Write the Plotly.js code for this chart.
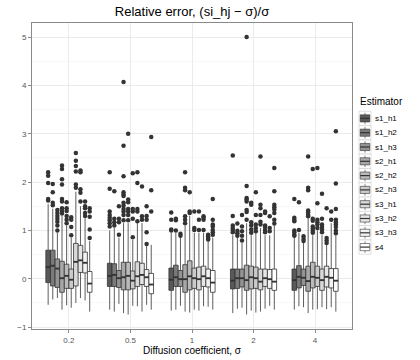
<!DOCTYPE html>
<html><head><meta charset="utf-8">
<script src="https://cdn.plot.ly/plotly-3.0.1.min.js"></script>
<style>html,body{margin:0;padding:0;background:#fff}#chart{width:420px;height:360px}</style>
</head><body><div id="chart"></div>
<script>
// Categories (x axis) and estimators (legend)
const SIGMA = ['0.2', '0.5', '1', '2', '4'];
const ESTIMATORS = ['s1_h1','s1_h2','s1_h3','s2_h1','s2_h2','s2_h3','s3_h1','s3_h2','s3_h3','s4'];
const FILLS = ['#595959','#7a7a7a','#939393','#a8a8a8','#bababa','#cacaca','#d9d9d9','#e6e6e6','#f3f3f3','#ffffff'];

// Box statistics: rows = sigma, columns = estimator
const LOWER = [
  [-0.54,-0.43,-0.40,-0.64,-0.55,-0.60,-0.50,-0.40,-0.45,-0.68],
  [-0.64,-0.68,-0.52,-0.71,-0.74,-0.56,-0.57,-0.68,-0.54,-0.64],
  [-0.66,-0.64,-0.56,-0.68,-0.70,-0.64,-0.66,-0.57,-0.58,-0.64],
  [-0.71,-0.62,-0.60,-0.74,-0.66,-0.70,-0.68,-0.62,-0.56,-0.64],
  [-0.64,-0.57,-0.59,-0.71,-0.64,-0.63,-0.59,-0.63,-0.59,-0.68]
];
const Q1 = [
  [-0.08,-0.15,-0.18,-0.28,-0.20,-0.20,-0.15,0.13,0.12,-0.28],
  [-0.16,-0.16,-0.18,-0.23,-0.23,-0.21,-0.16,-0.12,-0.16,-0.31],
  [-0.24,-0.16,-0.16,-0.28,-0.23,-0.20,-0.23,-0.16,-0.17,-0.28],
  [-0.21,-0.20,-0.17,-0.24,-0.21,-0.20,-0.23,-0.16,-0.20,-0.24],
  [-0.24,-0.19,-0.14,-0.26,-0.19,-0.16,-0.24,-0.17,-0.19,-0.26]
];
const MEDIAN = [
  [0.24,0.27,0.21,0.01,0.06,-0.02,0.35,0.38,0.33,-0.10],
  [0.06,0.08,0.01,0.03,0.06,-0.04,0.05,0.08,0.03,-0.12],
  [-0.02,0.03,-0.01,-0.01,0.05,0.01,-0.01,0.05,0.01,-0.08],
  [-0.04,0.01,0.01,-0.03,0.03,0.01,-0.06,0.01,-0.01,-0.06],
  [-0.03,0.04,0.02,-0.05,0.04,0.02,-0.03,0.04,0.02,-0.04]
];
const Q3 = [
  [0.59,0.59,0.41,0.36,0.30,0.20,0.73,0.69,0.55,0.15],
  [0.32,0.31,0.17,0.34,0.34,0.16,0.35,0.32,0.19,0.11],
  [0.22,0.28,0.17,0.29,0.37,0.22,0.24,0.26,0.20,0.17],
  [0.20,0.20,0.20,0.28,0.26,0.24,0.20,0.20,0.19,0.20],
  [0.20,0.27,0.20,0.26,0.34,0.26,0.20,0.26,0.21,0.21]
];
const UPPER = [
  [1.55,1.45,0.95,1.30,1.10,0.85,1.80,1.50,1.25,0.78],
  [1.00,1.05,0.85,1.15,1.15,0.80,1.15,1.15,0.68,0.70],
  [0.95,0.95,0.85,1.10,1.30,0.95,0.95,0.95,0.78,0.85],
  [0.90,0.85,0.75,1.15,0.90,0.95,1.05,0.90,0.90,1.10],
  [0.85,0.95,0.74,1.25,0.90,1.00,0.90,0.70,1.15,0.90]
];
const OUTLIERS = [
  [[2.2,2.13,1.98,1.65,1.62],[1.96,1.79,1.57,1.52],[1.42,1.36,1.3,1.24,1.18,1.1,1.0],
   [2.34,2.27,2.06,1.95,1.65,1.6,1.46,1.4,1.35],[1.58,1.46,1.4,1.3,1.22,1.15],[1.27,1.22,1.07,0.9],
   [2.6,2.44,2.33,2.22,1.95,1.88],[2.24,2.2,1.85,1.78,1.6],[1.6,1.5,1.46,1.36,1.3],[1.46,1.39,1.28,1.02,0.84]],
  [[2.2,1.86,1.39,1.32,1.26,1.21,1.15,1.08],[1.81,1.24,1.17,1.1],[1.5,1.24,1.17,0.91],
   [4.07,2.75,2.12,1.79,1.74,1.71,1.57,1.51,1.44,1.39,1.32,1.21],[3.0,1.64,1.58,1.44,1.39,1.32,1.21],[2.18,1.44,1.39,1.24,0.86],
   [2.2,1.98,1.44,1.39,1.19],[1.91,1.29,1.22],[1.5,1.3,1.22,0.96,0.72],[2.93,1.83,1.39]],
  [[1.37,1.22,1.02,1.0],[1.24,1.21,1.0],[0.93,0.89],
   [2.2,1.88,1.83,1.29,1.22,1.15],[1.79,1.39,1.36],[1.39,1.05,1.01],
   [1.39,1.22,1.01],[1.29,1.26,1.22,1.01],[0.91,0.88,0.84,0.81],[1.65,1.22,1.12,1.08,1.01,0.96,0.91]],
  [[2.55,1.3,1.1,1.05,1.01,0.96],[1.14,0.99,0.94,0.89],[1.32,1.08,0.98,0.89,0.79],
   [5.0,1.92,1.67,1.64,1.6,1.42,1.38,1.22],[1.57,1.53,1.17,1.1,1.02,0.95],[1.79,1.32,1.12,1.05,0.98],
   [2.53,1.53,1.46,1.32,1.18,1.12],[1.39,1.36,1.1,1.07,1.01,0.96],[1.29,1.05,0.98],[2.29,1.81,1.53,1.48,1.43,1.36,1.22,1.14]],
  [[1.65,1.26,1.22,1.19,1.0,0.96,0.91,0.89],[1.58,1.01],[0.88,0.82,0.78],
   [2.53,1.88,1.83,1.41,1.37,1.32,1.29],[2.27,1.24,1.2,1.08,1.04,0.99,0.95],[2.29,1.56,1.22,1.17,1.12,1.05],
   [1.76,1.24,1.12,1.07,1.02,0.96],[1.46,0.84,0.79,0.74],[1.39,1.22],[3.05,1.97,1.44,1.22,1.17,1.12,1.07,0.99,0.94]]
];

const N = ESTIMATORS.length;
const DODGE = 0.75;
const W = DODGE / N;
const INK = '#333333';
const FONT = 'Liberation Sans, Arial, Helvetica, sans-serif';
function xpos(i, j) { return i + (j - (N - 1) / 2) * W; }

const traces = ESTIMATORS.map((name, j) => ({
  type: 'box', name: name,
  x: SIGMA.map((s, i) => xpos(i, j)),
  lowerfence: SIGMA.map((s, i) => LOWER[i][j]),
  q1: SIGMA.map((s, i) => Q1[i][j]),
  median: SIGMA.map((s, i) => MEDIAN[i][j]),
  q3: SIGMA.map((s, i) => Q3[i][j]),
  upperfence: SIGMA.map((s, i) => UPPER[i][j]),
  width: W, whiskerwidth: 0,
  fillcolor: FILLS[j], line: { color: INK, width: 0.8 },
  boxpoints: false, hoverinfo: 'skip', showlegend: false
}));

// thicker median bars (ggplot fatten)
const mx = [], my = [];
ESTIMATORS.forEach((name, j) => SIGMA.forEach((s, i) => {
  const c = xpos(i, j);
  mx.push(c - W / 2, c + W / 2, null);
  my.push(MEDIAN[i][j], MEDIAN[i][j], null);
}));
traces.push({ type: 'scatter', mode: 'lines', x: mx, y: my, line: { color: INK, width: 1.8 },
  showlegend: false, hoverinfo: 'skip' });

// outliers
const ox = [], oy = [];
OUTLIERS.forEach((row, i) => row.forEach((vals, j) => vals.forEach(v => { ox.push(xpos(i, j)); oy.push(v); })));
traces.push({ type: 'scatter', mode: 'markers', x: ox, y: oy,
  marker: { color: INK, size: 4.5, line: { width: 0 } }, showlegend: false, hoverinfo: 'skip' });

// ggplot-style legend (key glyphs + labels), laid out in pixels beside the panel
const M = { l: 32, r: 68, t: 23, b: 31 };
const PW = 420 - M.l - M.r, PH = 360 - M.t - M.b;
const px = p => (p - M.l) / PW;
const py = p => (360 - M.b - p) / PH;
const LEG_X = 359, KEY_W = 12, KEY_H = 14.3, LEG_Y0 = 118.4;
const shapes = [], annotations = [];
annotations.push({ xref: 'paper', yref: 'paper', x: px(LEG_X - 1), y: py(102), xanchor: 'left', yanchor: 'middle',
  text: 'Estimator', showarrow: false, font: { size: 10, color: '#000', family: FONT } });
ESTIMATORS.forEach((name, j) => {
  const yc = LEG_Y0 + KEY_H * j, xc = LEG_X + KEY_W / 2;
  shapes.push({ type: 'rect', xref: 'paper', yref: 'paper', x0: px(LEG_X), x1: px(LEG_X + KEY_W),
    y0: py(yc - KEY_H / 2), y1: py(yc + KEY_H / 2), fillcolor: '#ffffff', line: { color: '#cccccc', width: 0.6 } });
  shapes.push({ type: 'line', xref: 'paper', yref: 'paper', x0: px(xc), x1: px(xc),
    y0: py(yc - KEY_H * 0.4), y1: py(yc + KEY_H * 0.4), line: { color: INK, width: 0.6 } });
  shapes.push({ type: 'rect', xref: 'paper', yref: 'paper', x0: px(LEG_X + 1.2), x1: px(LEG_X + KEY_W - 1.2),
    y0: py(yc - KEY_H * 0.25), y1: py(yc + KEY_H * 0.25), fillcolor: FILLS[j], line: { color: INK, width: 0.6 } });
  shapes.push({ type: 'line', xref: 'paper', yref: 'paper', x0: px(LEG_X + 1.2), x1: px(LEG_X + KEY_W - 1.2),
    y0: py(yc), y1: py(yc), line: { color: INK, width: 1.2 } });
  annotations.push({ xref: 'paper', yref: 'paper', x: px(LEG_X + KEY_W + 1.5), y: py(yc), xanchor: 'left', yanchor: 'middle',
    text: name, showarrow: false, font: { size: 8, color: '#000', family: FONT } });
});

const layout = {
  width: 420, height: 360,
  margin: { l: M.l, r: M.r, t: M.t, b: M.b, pad: 0 },
  paper_bgcolor: '#fff', plot_bgcolor: '#fff',
  font: { family: FONT, color: '#000' },
  showlegend: false,
  title: { text: 'Relative error, (si_hj − σ)/σ', xref: 'paper', x: 0.5, xanchor: 'center',
    yref: 'container', y: 0.968, yanchor: 'middle', font: { size: 13, color: '#000', family: FONT } },
  xaxis: {
    range: [-0.6, 4.6], tickmode: 'array', tickvals: SIGMA.map((s, i) => i), ticktext: SIGMA,
    showgrid: true, gridcolor: '#ebebeb', gridwidth: 1, zeroline: false,
    showline: true, mirror: true, linecolor: '#8a8a8a', linewidth: 1,
    ticks: 'outside', ticklen: 3, tickcolor: '#8a8a8a', tickwidth: 1,
    tickfont: { size: 8, color: '#555' },
    title: { text: 'Diffusion coefficient, σ', font: { size: 10, color: '#000' }, standoff: 2 }
  },
  yaxis: {
    range: [-1.04, 5.29], tickmode: 'linear', tick0: 0, dtick: 1,
    showgrid: true, gridcolor: '#ebebeb', gridwidth: 1, zeroline: false,
    minor: { tick0: 0.5, dtick: 1, showgrid: true, gridcolor: '#f4f4f4', gridwidth: 0.6, ticks: '' },
    showline: true, mirror: true, linecolor: '#8a8a8a', linewidth: 1,
    ticks: 'outside', ticklen: 3, tickcolor: '#8a8a8a', tickwidth: 1,
    tickfont: { size: 8, color: '#555' }
  },
  shapes: shapes,
  annotations: annotations
};

Plotly.newPlot('chart', traces, layout, { displayModeBar: false, staticPlot: true });
</script>
</body></html>
